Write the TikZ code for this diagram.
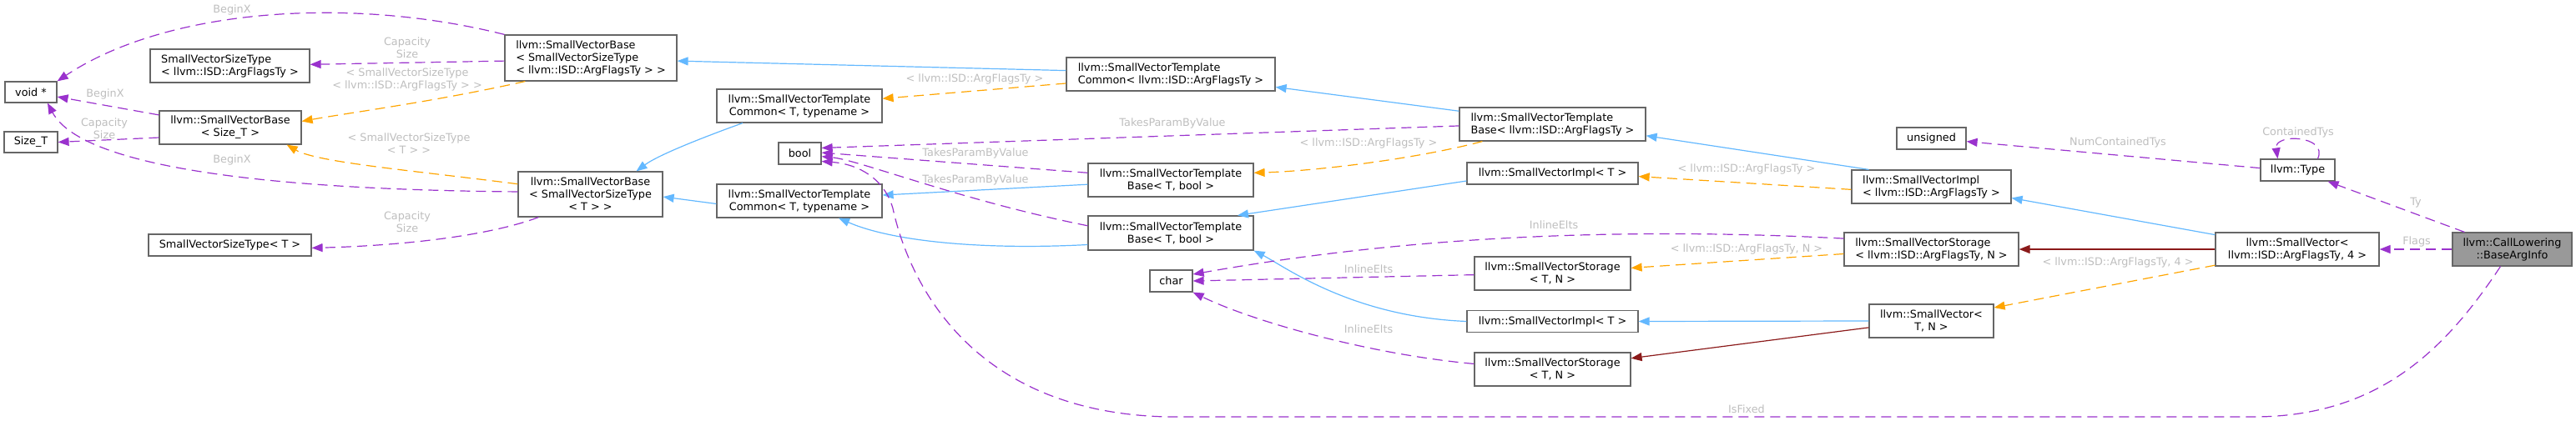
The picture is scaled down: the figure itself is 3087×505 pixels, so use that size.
\documentclass[tikz,border=0pt]{standalone}
\usepackage{fontspec}
\setmainfont{DejaVu Sans}
\usepackage{tikz}
\usetikzlibrary{arrows.meta}
\definecolor{usecol}{HTML}{9A32CD}
\definecolor{inhcol}{HTML}{63B8FF}
\definecolor{tplcol}{HTML}{FFA500}
\definecolor{prvcol}{HTML}{8B1A1A}
\definecolor{boxcol}{HTML}{666666}
\definecolor{lblcol}{HTML}{BEBEBE}
\definecolor{rootcol}{HTML}{999999}

\begin{document}
\begin{tikzpicture}[x=1pt,y=-1pt,
	cls/.style={draw=boxcol,line width=1.2pt,fill=white,inner sep=0pt,font=\fontsize{12.8}{15}\selectfont},
	lbl/.style={inner sep=0pt,font=\fontsize{12.8}{15}\selectfont,text=lblcol,align=center},
	tipped/.style={-{Triangle[length=13pt,width=10pt]}},
	usedge/.style={tipped,usecol,line width=1.2pt,dash pattern=on 12pt off 7pt},
	inhedge/.style={tipped,inhcol,line width=1.2pt},
	tpledge/.style={tipped,tplcol,line width=1.2pt,dash pattern=on 12pt off 7pt},
	prvedge/.style={tipped,prvcol,line width=1.2pt}]
		\useasboundingbox (0,0) rectangle (3087,505);
		
		\node[cls,minimum width=62pt,minimum height=25pt] (voidp) at (37,110.5) {void *};
		\node[cls,minimum width=64pt,minimum height=25pt] (sizet) at (37,170.5) {Size\_T};
		\node[cls,align=left,minimum width=191pt,minimum height=40pt] (svsA) at (275.5,79) {SmallVectorSizeType\\< llvm::ISD::ArgFlagsTy >};
		\node[cls,align=center,minimum width=170pt,minimum height=40pt] (svbS) at (276,153) {llvm::SmallVectorBase\\< Size\_T >};
		\node[cls,minimum width=195pt,minimum height=26pt] (svsT) at (275.5,294) {SmallVectorSizeType< T >};
		\node[cls,align=left,minimum width=206pt,minimum height=55pt] (svbA) at (708,69.5) {llvm::SmallVectorBase\\< SmallVectorSizeType\\< llvm::ISD::ArgFlagsTy > >};
		\node[cls,align=center,minimum width=173pt,minimum height=54pt] (svbT) at (707.5,233) {llvm::SmallVectorBase\\< SmallVectorSizeType\\< T > >};
		\node[cls,align=center,minimum width=198pt,minimum height=40pt] (svtcT1) at (958,127) {llvm::SmallVectorTemplate\\Common< T, typename >};
		\node[cls,minimum width=51pt,minimum height=26pt] (boolt) at (958.5,184) {bool};
		\node[cls,align=center,minimum width=198pt,minimum height=40pt] (svtcT2) at (958,241) {llvm::SmallVectorTemplate\\Common< T, typename >};
		\node[cls,align=left,minimum width=250pt,minimum height=40pt] (svtcA) at (1403,89) {llvm::SmallVectorTemplate\\Common< llvm::ISD::ArgFlagsTy >};
		\node[cls,align=center,minimum width=198pt,minimum height=40pt] (svtbT1) at (1403,216) {llvm::SmallVectorTemplate\\Base< T, bool >};
		\node[cls,align=center,minimum width=198pt,minimum height=41pt] (svtbT2) at (1403,279.5) {llvm::SmallVectorTemplate\\Base< T, bool >};
		\node[cls,minimum width=51pt,minimum height=26pt] (chart) at (1403.5,337) {char};
		\node[cls,align=left,minimum width=223pt,minimum height=40pt] (svtbA) at (1860.5,149) {llvm::SmallVectorTemplate\\Base< llvm::ISD::ArgFlagsTy >};
		\node[cls,minimum width=205pt,minimum height=26pt] (sviT1) at (1860.5,208) {llvm::SmallVectorImpl< T >};
		\node[cls,align=center,minimum width=187pt,minimum height=40pt] (svstT1) at (1860.5,328) {llvm::SmallVectorStorage\\< T, N >};
		\node[cls,minimum width=205pt,minimum height=26pt] (sviT2) at (1860.5,385.5) {llvm::SmallVectorImpl< T >};
		\node[cls,align=center,minimum width=187pt,minimum height=40pt] (svstT2) at (1860.5,443) {llvm::SmallVectorStorage\\< T, N >};
		\node[cls,minimum width=83pt,minimum height=26pt] (unsignedt) at (2314.5,166) {unsigned};
		\node[cls,align=left,minimum width=191pt,minimum height=40pt] (sviA) at (2314.5,224) {llvm::SmallVectorImpl\\< llvm::ISD::ArgFlagsTy >};
		\node[cls,align=left,minimum width=209pt,minimum height=40pt] (svstA) at (2314.5,299) {llvm::SmallVectorStorage\\< llvm::ISD::ArgFlagsTy, N >};
		\node[cls,align=center,minimum width=149pt,minimum height=40pt] (svT) at (2314.5,385) {llvm::SmallVector<\\T, N >};
		\node[cls,minimum width=89pt,minimum height=26pt] (typet) at (2753.5,204) {llvm::Type};
		\node[cls,align=center,minimum width=196pt,minimum height=40pt] (svA) at (2753,299) {llvm::SmallVector<\\llvm::ISD::ArgFlagsTy, 4 >};
		\node[cls,fill=rootcol,align=center,minimum width=143pt,minimum height=40pt] (bai) at (3010.5,299) {llvm::CallLowering\\::BaseArgInfo};
		
		\node[lbl] (lbBX1) at (278,12) {BeginX};
		\node[lbl] (lbCS1) at (488,57) {Capacity\\Size};
		\node[lbl] (lbBX2) at (126,113) {BeginX};
		\node[lbl] (lbCS2) at (125,154) {Capacity\\Size};
		\node[lbl] (lbBX3) at (278,192) {BeginX};
		\node[lbl] (lbTA1) at (488,95) {< SmallVectorSizeType\\< llvm::ISD::ArgFlagsTy > >};
		\node[lbl] (lbTT1) at (490,172) {< SmallVectorSizeType\\< T > >};
		\node[lbl] (lbCS3) at (488,266) {Capacity\\Size};
		\node[lbl] (lbTA2) at (1168,95) {< llvm::ISD::ArgFlagsTy >};
		\node[lbl] (lbTP1) at (1405,148) {TakesParamByValue};
		\node[lbl] (lbTP2) at (1169,184) {TakesParamByValue};
		\node[lbl] (lbTP3) at (1169,216) {TakesParamByValue};
		\node[lbl] (lbTA3) at (1640,172) {< llvm::ISD::ArgFlagsTy >};
		\node[lbl] (lbTA4) at (2093,203) {< llvm::ISD::ArgFlagsTy >};
		\node[lbl] (lbIE1) at (1862,270) {InlineElts};
		\node[lbl] (lbIE2) at (1640,323) {InlineElts};
		\node[lbl] (lbIE3) at (1640,395) {InlineElts};
		\node[lbl] (lbTA5) at (2093,299) {< llvm::ISD::ArgFlagsTy, N >};
		\node[lbl] (lbTA6) at (2538,315) {< llvm::ISD::ArgFlagsTy, 4 >};
		\node[lbl] (lbNCT) at (2538,171) {NumContainedTys};
		\node[lbl] (lbCT) at (2754,159) {ContainedTys};
		\node[lbl] (lbTy) at (2895,243) {Ty};
		\node[lbl] (lbFl) at (2896,290) {Flags};
		\node[lbl] (lbIF) at (2093,491) {IsFixed};
		
		\draw[usedge] (svbA.north west) .. controls (420,-5) and (200,10) .. (voidp.north east);
		\draw[usedge] (svbA.182) to (svsA.1);
		\draw[usedge] (svbS.170) to (voidp.-10);
		\draw[usedge] (svbS.188) to (sizet.east);
		\draw[tpledge] ([xshift=25pt]svbA.south west) .. controls (520,122) and (420,135) .. (svbS.5);
		\draw[tpledge] (svbT.172) .. controls (500,205) and (380,195) .. ([xshift=-18pt]svbS.south east);
		\draw[usedge] (svbT.178) .. controls (350,228) and (100,205) .. ([xshift=20pt]voidp.south);
		\draw[usedge] ([xshift=25pt]svbT.south west) .. controls (580,285) and (470,295) .. (svsT.-2);
		
		\draw[inhedge] (svtcA.178) to (svbA.358);
		\draw[tpledge] (svtcA.185) to (svtcT1.5);
		\draw[inhedge] ([xshift=-68pt]svtcT1.south) .. controls (850,162) and (790,185) .. ([xshift=55pt]svbT.north);
		\draw[inhedge] (svtcT2.182) to (svbT.358);
		
		\draw[inhedge] (svtbA.172) to (svtcA.-7);
		\draw[usedge] (svtbA.181) to (boolt.14);
		\draw[tpledge] ([xshift=28pt]svtbA.south west) .. controls (1700,190) and (1580,205) .. (svtbT1.5);
		\draw[usedge] (svtbT1.175) to (boolt.2);
		\draw[inhedge] (svtbT1.183) to (svtcT2.4);
		\draw[usedge] (svtbT2.175) .. controls (1150,240) and (1030,192) .. (boolt.-8);
		\draw[inhedge] (svtbT2.188) .. controls (1180,300) and (1070,290) .. ([xshift=47pt]svtcT2.south);
		
		\draw[inhedge] ([xshift=-75pt]sviA.north) to (svtbA.-7);
		\draw[tpledge] (sviA.182) to (sviT1.-2);
		\draw[inhedge] (sviT1.185) to ([xshift=80pt]svtbT2.north);
		\draw[inhedge] (sviT2.west) .. controls (1620,380) and (1540,320) .. (svtbT2.south east);
		\draw[usedge] (svstA.173) .. controls (1900,270) and (1650,290) .. (chart.17);
		\draw[usedge] (svstT1.181) to (chart.east);
		\draw[usedge] (svstT2.176) .. controls (1640,425) and (1500,385) .. (chart.south east);
		\draw[tpledge] (svstA.183) to (svstT1.4);
		\draw[inhedge] (svT.west) to (sviT2.east);
		\draw[prvedge] (svT.186) to (svstT2.8);
		
		\draw[inhedge] (svA.170) to (sviA.-8);
		\draw[prvedge] (svA.west) to (svstA.east);
		\draw[tpledge] (svA.191) to (svT.12);
		\draw[usedge] (bai.west) to (svA.east);
		\draw[usedge] ([xshift=15pt]bai.north west) to ([xshift=36pt]typet.south);
		\draw[usedge] ([xshift=24pt]typet.north) .. controls +(13,-28) and +(-4.5,-31) .. ([xshift=-24pt]typet.north);
		\draw[usedge] (typet.177) to (unsignedt.-5);
		\draw[usedge] ([xshift=-14pt]bai.south) .. controls (2930,420) and (2850,500) .. (2700,500) -- (1400,500) .. controls (1150,495) and (1085,320) .. (1070,250) .. controls (1060,215) and (1030,197) .. (boolt.-20);
	\end{tikzpicture}
\end{document}
